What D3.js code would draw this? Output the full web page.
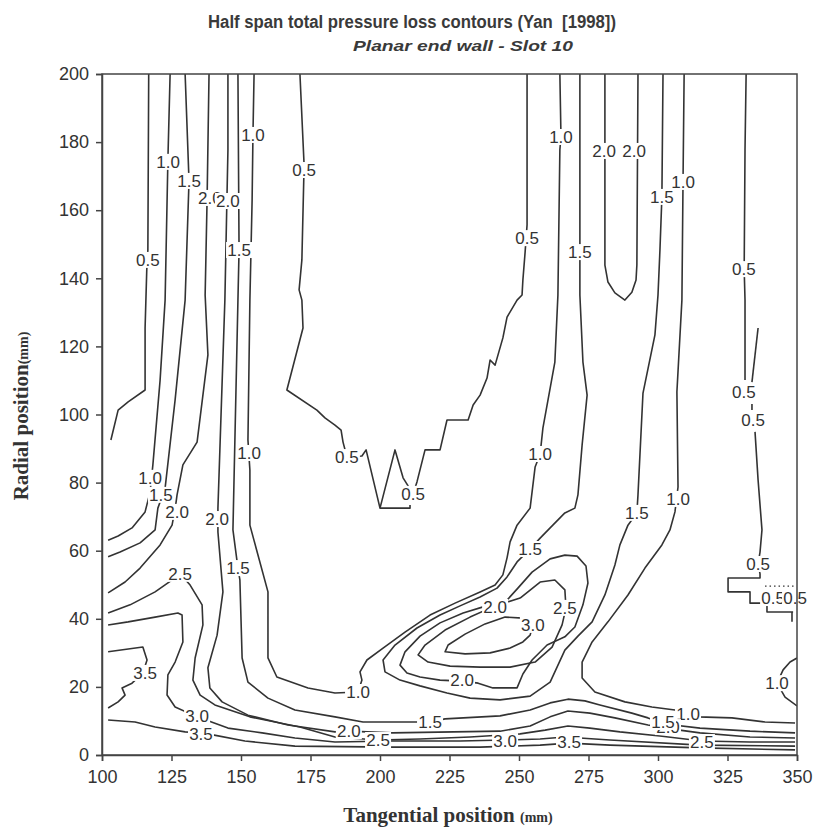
<!DOCTYPE html>
<html><head><meta charset="utf-8">
<script src="https://cdn.jsdelivr.net/npm/d3@7/dist/d3.min.js"></script>
<style>body{margin:0;background:#fff} text{white-space:pre}</style>
</head><body><svg id="c" width="813" height="833"></svg>
<script>
// ---- axes ----
const xTicks=[100,125,150,175,200,225,250,275,300,325,350];
const yTicks=[0,20,40,60,80,100,120,140,160,180,200];

// ---- contour polylines [tangential mm, radial mm] ----
const c05Left=[[116.8,200],[116.5,148.3],[116.1,142.4],[115.5,125.4],[115.5,107.2],[109.4,103.7],[105.8,101.3],[103.2,92.5]];
const c10Left=[[124.5,200],[123.7,174.7],[122.7,133.6],[120.9,110.1],[118.3,85.2],[117.3,77.2],[115.5,71.4],[110.8,66.7],[105.8,64.3],[102.2,63.1]];
const c15Left=[[129.9,200],[131.3,168.6],[129.9,133.6],[126.3,104.3],[122.7,78.4],[120.1,72.5],[119.1,66.1],[113.7,62.3],[106.5,59.6],[102.2,58.2]];
const c20Left=[[138.5,200],[137.8,163.0],[137.1,135.1],[138.1,117.5],[134.2,91.9],[129.1,85.2],[127.0,76.4],[126.3,72.2],[125.2,67.5],[120.9,61.7],[113.7,54.9],[108.3,50.8],[102.2,47.6]];
const c25Main=[[102.2,41.7],[110.1,44.1],[119.1,47.9],[126.3,52.0],[128.1,53.2],[131.7,49.9],[136.0,44.1],[136.3,38.2],[133.5,28.5],[132.7,22.0],[135.3,17.6],[140.6,14.7],[153.2,11.2],[171.2,8.2],[183.8,5.3],[199.3,4.4],[214.4,4.7],[232.4,5.3],[250.4,6.2],[259.4,7.3],[267.6,8.5],[275.5,7.9],[286.3,6.8],[300.7,5.6],[315.8,4.1],[333.1,3.8],[349.3,3.8]];
const c30Main=[[102.2,38.2],[109.4,39.1],[119.1,40.5],[127.3,41.7],[128.8,41.1],[129.1,33.2],[126.3,27.3],[123.7,23.5],[123.4,17.6],[126.3,14.1],[134.2,11.2],[145.3,7.9],[157.6,6.5],[169.4,5.0],[183.8,3.8],[204.3,4.1],[228.8,4.1],[245.0,4.4],[257.6,4.7],[266.5,5.3],[282.7,4.4],[315.1,2.9],[349.3,2.6]];
const c35Bump=[[102.2,30.3],[114.7,31.7],[116.2,27.9],[114.7,24.1],[110.8,21.1],[107.2,19.7],[108.3,17.6],[105.8,15.6],[102.2,13.8]];
const c35Bottom=[[102.2,10.3],[111.9,9.7],[119.1,8.2],[129.9,6.8],[135.6,6.5],[139.9,5.9],[151.4,4.1],[169.4,2.6],[204.3,2.3],[236.0,2.3],[257.6,2.9],[268.0,3.5],[282.7,2.9],[315.1,2.1],[349.3,1.5]];
const c20Main=[[145.3,200],[145.3,177.7],[144.2,133.6],[142.4,89.6],[141.7,72.5],[141.7,65.5],[143.5,47.9],[141.4,35.2],[138.1,25.6],[138.8,19.7],[143.2,15.6],[152.5,11.7],[166.9,8.8],[183.8,6.8],[188.8,7.0],[204.3,6.5],[243.2,7.0],[254.0,8.5],[261.2,11.2],[267.6,12.9],[275.5,12.3],[284.5,10.9],[296.4,8.8],[302.5,7.9],[315.1,6.5],[333.1,5.3],[349.3,5.0]];
const c15Main=[[148.9,200],[149.3,148.3],[148.9,133.6],[147.1,66.1],[148.9,54.9],[149.6,51.4],[150.4,28.5],[152.5,21.4],[159.7,16.7],[169.4,13.2],[183.8,11.2],[193.9,9.7],[218.0,9.7],[223.4,10.6],[243.2,11.5],[254.0,13.2],[261.2,15.3],[267.6,16.4],[273.7,15.9],[279.1,14.7],[290.6,12.3],[296.4,10.9],[302.5,9.1],[315.1,7.9],[333.1,7.0],[349.3,6.5]];
const c10Main=[[154.7,200],[154.3,182.1],[154.0,163.0],[153.2,133.6],[152.5,92.5],[153.2,83.7],[153.2,67.5],[159.7,47.9],[159.7,28.5],[162.9,22.9],[174.1,19.7],[183.8,18.2],[192.1,18.5],[193.5,22.0],[192.8,24.4],[195.3,27.9],[201.1,31.4],[209.0,36.1],[218.0,41.1],[227.0,44.6],[236.0,47.9],[241.4,49.9],[244.2,52.9],[245.7,57.9],[246.8,62.6],[249.3,67.5],[254.0,72.5],[255.8,84.6],[257.6,88.4],[258.6,96.0],[262.9,115.4],[264.0,135.1],[264.7,177.7],[265.1,181.5],[264.7,200]];
const c05Center=[[171.2,200],[172.7,173.3],[171.9,145.4],[170.9,136.6],[171.9,133.6],[172.3,125.4],[166.5,107.2],[177.3,101.3],[180.2,99.0],[183.8,96.9],[186.0,95.4],[186.7,91.9],[188.1,87.5],[193.5,87.8],[195.0,89.6],[200.0,72.5],[205.4,89.6],[208.3,81.4],[211.9,76.7],[213.3,80.2],[216.2,89.6],[221.6,89.6],[224.1,98.4],[231.7,98.4],[233.5,102.8],[236.0,105.7],[238.5,110.7],[239.6,116.0],[241.4,114.5],[244.2,122.5],[245.7,128.6],[249.3,133.6],[251.1,135.1],[251.4,139.5],[252.2,147.7],[252.9,155.7],[252.9,200]];
const c05Foot=[[200.0,72.5],[210.8,72.5],[210.8,73.4]];
const c15Tongue=[[271.9,200],[271.9,147.7],[271.9,135.1],[273.0,115.4],[274.5,105.7],[272.7,91.0],[271.2,76.4],[270.1,72.5],[266.5,71.1],[261.2,66.7],[257.6,63.7],[254.0,60.5],[249.3,56.7],[245.7,52.3],[242.1,49.0],[236.0,46.4],[228.8,43.8],[221.6,41.1],[213.3,37.3],[205.4,32.3],[201.1,27.9],[201.8,24.4],[207.2,22.0],[214.4,20.3],[224.1,18.2],[232.4,16.7],[243.2,16.2],[254.0,17.3],[261.2,21.4],[266.5,30.8],[271.2,34.9],[276.3,39.1],[280.9,47.0],[284.5,55.8],[286.3,61.7],[289.2,67.5],[292.4,71.1],[292.8,76.4],[294.6,106.3],[298.9,123.4],[300.0,135.1],[300.7,148.3],[301.4,163.9],[301.8,200]];
const c20Loop=[[245.7,45.5],[237.1,43.5],[229.9,41.7],[221.6,38.8],[214.4,34.9],[209.0,30.3],[207.2,26.4],[209.7,24.1],[214.4,22.9],[221.6,22.0],[229.5,21.7],[235.3,21.1],[240.6,19.7],[249.3,19.7],[251.4,23.8],[254.7,27.9],[260.1,32.3],[266.5,34.7],[270.1,37.6],[273.0,44.1],[274.8,50.5],[274.1,55.5],[270.9,58.4],[266.5,58.7],[261.2,57.6],[254.7,53.7],[249.6,49.0],[245.7,45.5]];
const c25Loop=[[250.4,46.1],[241.4,43.8],[232.4,40.5],[223.4,36.7],[216.2,32.3],[213.7,29.4],[217.3,27.3],[225.2,26.1],[236.0,25.8],[246.8,25.8],[255.8,27.3],[261.9,31.7],[265.5,38.2],[266.9,43.2],[266.5,48.5],[262.9,51.4],[257.6,50.8],[250.4,46.1]];
const c30Loop=[[251.4,40.2],[245.0,40.5],[237.8,38.5],[230.6,35.5],[224.5,32.3],[223.4,30.3],[230.6,29.7],[239.6,30.0],[246.8,31.4],[251.4,33.2],[254.0,35.2],[255.0,38.2],[251.4,40.2]];
const c20U=[[280.9,200],[280.9,143.9],[282.0,138.9],[284.5,135.7],[288.1,133.6],[290.6,135.9],[292.1,139.5],[292.4,143.9],[292.8,200]];
const c10Right=[[309.4,200],[309.0,168.3],[308.6,133.6],[306.8,106.6],[307.2,78.7],[306.1,71.4],[304.3,66.1],[301.4,61.7],[295.3,54.9],[289.2,47.0],[282.0,39.1],[276.3,33.2],[272.7,27.3],[272.7,22.6],[277.3,18.5],[288.1,15.6],[297.8,14.1],[306.1,13.2],[314.4,11.2],[326.6,10.9],[338.5,9.7],[349.3,9.4]];
const c05RightTop=[[331.7,200],[331.3,177.7],[331.0,142.7],[331.3,133.6],[331.3,110.1]];
const c05Spike=[[336.0,125.4],[333.8,109.5]];
const c05Mid=[[333.8,103.1],[333.8,101.3]];
const c05RightLow=[[334.9,94.9],[336.0,80.8],[337.4,66.1],[336.7,59.6],[336.0,56.1],[336.7,53.2],[336.7,52.0],[325.2,52.0],[325.2,47.9],[333.1,47.9],[333.1,44.6],[338.5,44.6]];
const c05Bracket=[[339.2,44.3],[339.2,42.0],[348.6,42.0]];
const c05Stub=[[348.2,42.0],[348.2,39.1]];
const c05Dots=[[338.5,49.6],[349.3,49.6]];
const c10Corner=[[350,28.5],[347.5,27.3],[345.0,25.0],[342.8,21.1],[345.7,17.0],[350,14.4]];

const contourLines=[c05Left,c10Left,c15Left,c20Left,c25Main,c30Main,c35Bump,c35Bottom,c20Main,c15Main,c10Main,
  c05Center,c05Foot,c15Tongue,c20Loop,c25Loop,c30Loop,c20U,c10Right,c05RightTop,c05Spike,c05Mid,c05RightLow,
  c05Bracket,c05Stub,c10Corner];

// ---- contour labels [text, tangential, radial] ----
const labelText=["0.5","1.0","1.5","2.0","2.0","1.0","0.5","1.5",
  "1.0","1.5","2.0","1.0","2.0","2.5","1.5","3.5","3.0","3.5",
  "0.5","0.5","0.5","1.0","1.0","1.0","1.5","2.0","2.5","3.0","2.0",
  "2.0","2.5","1.5","3.0","3.5",
  "1.5","2.0","2.0","1.5","1.0","0.5","0.5","0.5","1.5","1.0","0.5","0.5","0.5","1.0","1.0","2.0","1.5","2.5"];
const labelX=[116.5,123.8,131.3,138.8,145.3,154.3,172.7,149.3,
  117.3,121.2,127.0,152.9,141.4,128.1,148.9,115.5,134.2,135.6,
  188.1,211.9,252.9,265.1,257.6,192.1,254.0,241.4,266.5,255.0,229.5,
  188.8,199.3,218.0,245.0,268.0,
  271.9,280.6,291.4,301.4,309.0,330.9,330.9,334.2,292.4,307.2,336.0,341.4,349.3,342.8,310.8,303.6,301.8,315.8];
const labelY=[145.4,174.2,168.6,163.6,162.7,182.1,171.8,148.3,
  81.4,76.4,71.4,88.7,69.3,53.2,54.9,24.1,11.5,6.2,
  87.5,76.7,151.8,181.5,88.4,18.5,60.5,43.5,43.2,38.2,22.0,
  7.0,4.4,9.7,4.1,3.8,
  147.7,177.4,177.4,163.9,168.3,142.7,106.6,98.4,71.1,75.2,56.1,46.1,46.1,21.1,12.0,8.2,9.7,3.8];

const svg=d3.select('#c');
const x=d3.scaleLinear().domain([100,350]).range([102,797]);
const y=d3.scaleLinear().domain([0,200]).range([755,74]);
const ink='#333';
const sans='Liberation Sans, Arial, sans-serif';
const serif='Liberation Serif, Times New Roman, serif';

// title
svg.append('text').attr('x',412).attr('y',28).attr('text-anchor','middle')
  .attr('font-family',sans).attr('font-weight','bold').attr('font-size',18)
  .attr('textLength',408).attr('lengthAdjust','spacingAndGlyphs')
  .attr('fill','#3a3a3a').text('Half span total pressure loss contours (Yan  [1998])');
svg.append('text').attr('x',463).attr('y',51).attr('text-anchor','middle')
  .attr('font-family',sans).attr('font-weight','bold').attr('font-style','italic').attr('font-size',15.5)
  .attr('textLength',220).attr('lengthAdjust','spacingAndGlyphs')
  .attr('fill','#3a3a3a').text('Planar end wall - Slot 10');

svg.append('clipPath').attr('id','cp').append('rect').attr('x',102).attr('y',74).attr('width',695).attr('height',681);
const g=svg.append('g').attr('clip-path','url(#cp)');
const line=d3.line().x(d=>x(d[0])).y(d=>y(d[1]));
contourLines.forEach(pts=>{
  g.append('path').attr('d',line(pts)).attr('fill','none').attr('stroke',ink)
   .attr('stroke-width',1.6).attr('stroke-linejoin','round');
});
g.append('path').attr('d',line(c05Dots)).attr('fill','none').attr('stroke',ink).attr('stroke-width',1.4).attr('stroke-dasharray','1.5,3');

// labels
const lg=svg.append('g');
labelText.forEach((t,i)=>{
  const gg=lg.append('g').attr('transform',`translate(${x(labelX[i])},${y(labelY[i])})`);
  gg.append('rect').attr('x',-13).attr('y',-8).attr('width',26).attr('height',16).attr('fill','#fff');
  gg.append('text').attr('text-anchor','middle').attr('dy','0.36em')
    .attr('font-family',sans).attr('font-size',17).attr('fill',ink).text(t);
});

// frame
svg.append('rect').attr('x',102).attr('y',74).attr('width',695).attr('height',681)
  .attr('fill','none').attr('stroke','#444').attr('stroke-width',1.5);

// axes
const ax=svg.append('g').attr('transform','translate(0,755)')
  .call(d3.axisBottom(x).tickValues(xTicks).tickFormat(d3.format('d')).tickSize(6).tickPadding(9));
const ay=svg.append('g').attr('transform','translate(102,0)')
  .call(d3.axisLeft(y).tickValues(yTicks).tickFormat(d3.format('d')).tickSize(6).tickPadding(7));
[ax,ay].forEach(a=>{
  a.selectAll('path,line').attr('stroke','#444').attr('stroke-width',1.5);
  a.selectAll('text').attr('font-family',sans).attr('font-size',18).attr('fill','#333');
});

// axis titles
const xt=svg.append('text').attr('x',448).attr('y',822).attr('text-anchor','middle')
  .attr('font-family',serif).attr('font-weight','bold').attr('fill','#333');
xt.append('tspan').attr('font-size',21).text('Tangential position ');
xt.append('tspan').attr('font-size',14).text('(mm)');
const yt=svg.append('text').attr('transform','translate(28,416) rotate(-90)').attr('text-anchor','middle')
  .attr('font-family',serif).attr('font-weight','bold').attr('fill','#333');
yt.append('tspan').attr('font-size',21).text('Radial position');
yt.append('tspan').attr('font-size',14).text('(mm)');
</script></body></html>
